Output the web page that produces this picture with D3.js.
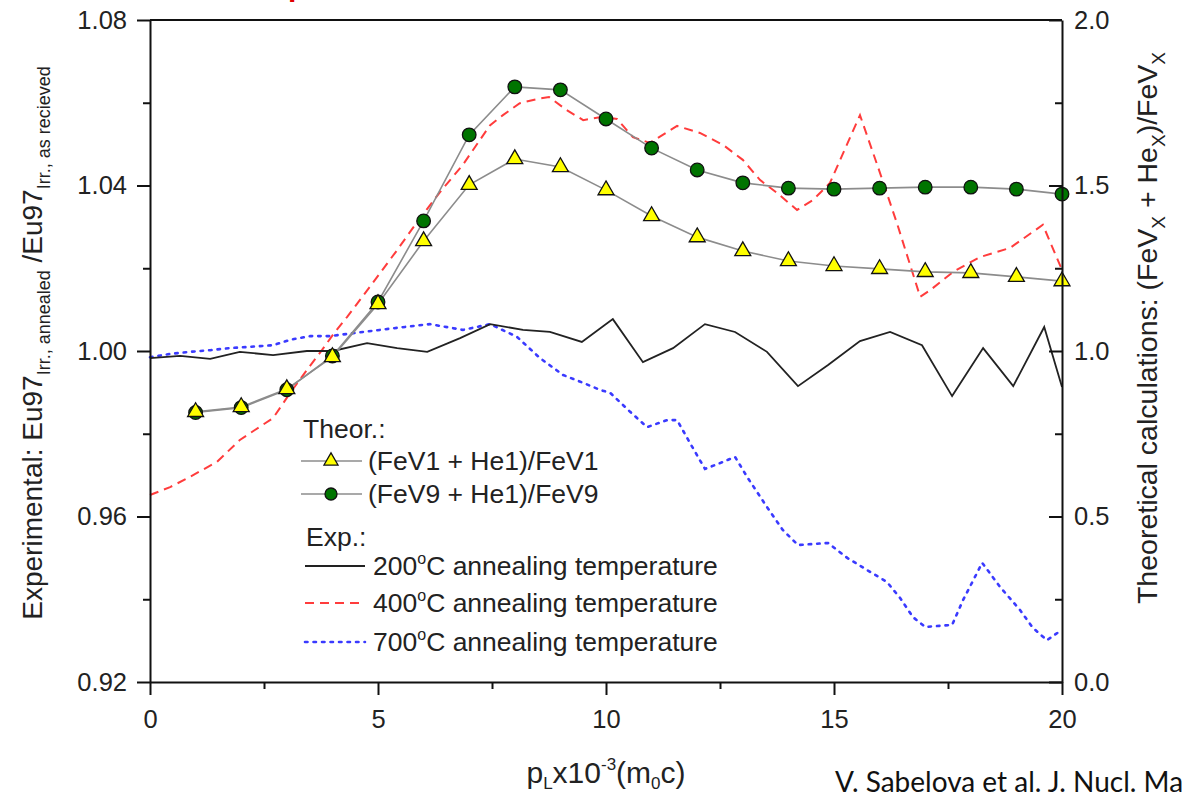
<!DOCTYPE html>
<html>
<head>
<meta charset="utf-8">
<title>Eu97 ratio vs pL</title>
<script src="https://d3js.org/d3.v7.min.js"></script>
<style>
  body { margin: 0; background: #fff; overflow: hidden; }
  svg { display: block; font-family: "Liberation Sans", Arial, sans-serif; }
  .axis path, .axis line { stroke: #111; stroke-width: 2; }
  .axis text { font-size: 25.5px; fill: #222; font-family: "Liberation Sans", Arial, sans-serif; }
</style>
</head>
<body>
<script>
// theoretical calculations (right axis)
var pL = [1, 2, 3, 4, 5, 6, 7, 8, 9, 10, 11, 12, 13, 14, 15, 16, 17, 18, 19, 20];
var fev1 = [0.816, 0.831, 0.885, 0.982, 1.142, 1.332, 1.502, 1.580, 1.556, 1.486,
            1.408, 1.344, 1.302, 1.272, 1.257, 1.248, 1.239, 1.236, 1.224, 1.211];
var fev9 = [0.814, 0.829, 0.883, 0.985, 1.148, 1.393, 1.653, 1.798, 1.789, 1.701,
            1.613, 1.547, 1.508, 1.492, 1.489, 1.492, 1.495, 1.495, 1.489, 1.474];

// experimental (left axis)
var x200 = [0, 0.66, 1.32, 1.97, 2.70, 3.44, 4.01, 4.76, 5.42, 6.08, 6.80, 7.46, 8.18, 8.77, 9.47, 10.15,
            10.81, 11.47, 12.17, 12.83, 13.53, 14.21, 14.87, 15.57, 16.23, 16.93, 17.59, 18.27, 18.93, 19.61, 20];
var y200 = [0.9983, 0.9988, 0.9981, 0.9998, 0.9990, 1.0000, 1.0000, 1.0019, 1.0007, 0.9998, 1.0031, 1.0065,
            1.0051, 1.0046, 1.0022, 1.0077, 0.9973, 1.0007, 1.0065, 1.0046, 0.9998, 0.9915, 0.9966, 1.0024,
            1.0046, 1.0014, 0.9891, 1.0007, 0.9915, 1.0058, 0.9913];

var x400 = [0, 0.44, 0.88, 1.47, 1.97, 2.30, 2.70, 3.07, 3.44, 3.77, 4.01, 4.32, 4.82, 5.42, 5.86, 6.36,
            6.86, 7.46, 7.74, 8.11, 8.49, 8.75, 9.14, 9.50, 9.93, 10.24, 10.59, 10.96, 11.56, 12.06, 12.57,
            13.00, 13.38, 13.75, 14.19, 14.54, 14.91, 15.57, 16.01, 16.38, 16.89, 17.11, 17.61, 18.20, 18.86,
            19.58, 20];
var y400 = [0.9652, 0.9671, 0.9696, 0.9732, 0.9785, 0.9809, 0.9838, 0.9898, 0.9954, 1.0002, 1.0039, 1.0082,
            1.0155, 1.0244, 1.0312, 1.0384, 1.0450, 1.0546, 1.0570, 1.0599, 1.0609, 1.0614, 1.0582, 1.0558,
            1.0566, 1.0561, 1.0517, 1.0503, 1.0544, 1.0527, 1.0498, 1.0462, 1.0413, 1.0382, 1.0341, 1.0365,
            1.0406, 1.0570, 1.0430, 1.0309, 1.0131, 1.0147, 1.0191, 1.0227, 1.0249, 1.0305, 1.0196];

var x700 = [0, 0.44, 0.88, 1.32, 1.75, 2.19, 2.70, 3.07, 3.51, 3.95, 4.67, 5.42, 6.14, 6.86, 7.46, 8.05,
            8.55, 9.06, 9.50, 9.87, 10.09, 10.53, 10.90, 11.34, 11.56, 11.84, 12.17, 12.50, 12.83, 13.11,
            13.53, 13.88, 14.21, 14.87, 15.29, 15.72, 16.16, 16.45, 16.73, 17.00, 17.59, 17.83, 18.25, 18.64,
            19.08, 19.36, 19.67, 19.93];
var y700 = [0.9985, 0.9993, 0.9998, 1.0002, 1.0007, 1.0010, 1.0014, 1.0027, 1.0036, 1.0036, 1.0046, 1.0056,
            1.0065, 1.0051, 1.0065, 1.0034, 0.9983, 0.9942, 0.9923, 0.9906, 0.9899, 0.9853, 0.9816, 0.9833,
            0.9833, 0.9778, 0.9715, 0.9729, 0.9744, 0.9693, 0.9623, 0.9567, 0.9531, 0.9536, 0.9500, 0.9471,
            0.9442, 0.9403, 0.9357, 0.9333, 0.9338, 0.9398, 0.9488, 0.9430, 0.9374, 0.9331, 0.9301, 0.9321];

// ticks
var xTicks = [0, 5, 10, 15, 20];
var xMinor = [2.5, 7.5, 12.5, 17.5];
var leftTicks = [0.92, 0.96, 1.00, 1.04, 1.08];
var leftMinor = [0.94, 0.98, 1.02, 1.06];
var rightTicks = [0, 0.5, 1.0, 1.5, 2.0];
var rightMinor = [0.25, 0.75, 1.25, 1.75];

var W = 1182, H = 793;
var svg = d3.select('body').append('svg').attr('width', W).attr('height', H);

var x = d3.scaleLinear().domain([0, 20]).range([150, 1062]);
var yL = d3.scaleLinear().domain([0.92, 1.08]).range([682, 20]);
var yR = d3.scaleLinear().domain([0, 2]).range([682, 20]);

// cut-off red heading (only its descender is inside the picture)
svg.append('text').attr('x', 288).attr('y', -4).attr('fill', '#e00000')
  .attr('font-size', 30).attr('font-weight', 'bold').text('p');

// experimental lines
function pairs(xs, ys) { return xs.map(function(d, i){ return [d, ys[i]]; }); }
var lineL = d3.line().x(function(d){ return x(d[0]); }).y(function(d){ return yL(d[1]); });
var lineR = d3.line().x(function(d){ return x(d[0]); }).y(function(d){ return yR(d[1]); });

svg.append('path').datum(pairs(x700, y700)).attr('d', lineL)
  .attr('fill', 'none').attr('stroke', '#3a3aff').attr('stroke-width', 2.6)
  .attr('stroke-dasharray', '2.5,6').attr('stroke-linecap', 'round');
svg.append('path').datum(pairs(x400, y400)).attr('d', lineL)
  .attr('fill', 'none').attr('stroke', '#ff3c3c').attr('stroke-width', 2).attr('stroke-dasharray', '9,6');
svg.append('path').datum(pairs(x200, y200)).attr('d', lineL)
  .attr('fill', 'none').attr('stroke', '#222').attr('stroke-width', 1.8);

// theoretical lines + markers
var tri = d3.symbol().type(d3.symbolTriangle).size(110);
svg.append('path').datum(pairs(pL, fev9)).attr('d', lineR)
  .attr('fill', 'none').attr('stroke', '#8c8c8c').attr('stroke-width', 1.6);
svg.append('path').datum(pairs(pL, fev1)).attr('d', lineR)
  .attr('fill', 'none').attr('stroke', '#8c8c8c').attr('stroke-width', 1.6);

svg.selectAll('circle.fev9').data(pairs(pL, fev9)).enter().append('circle')
  .attr('class', 'fev9')
  .attr('cx', function(d){ return x(d[0]); })
  .attr('cy', function(d){ return yR(d[1]); })
  .attr('r', 6.8).attr('fill', '#007400').attr('stroke', '#111').attr('stroke-width', 1.3);
svg.selectAll('path.fev1').data(pairs(pL, fev1)).enter().append('path')
  .attr('class', 'fev1').attr('d', tri)
  .attr('transform', function(d){ return 'translate(' + x(d[0]) + ',' + yR(d[1]) + ')'; })
  .attr('fill', '#ffff00').attr('stroke', '#111').attr('stroke-width', 1.3);

// axes
function minorAxis(g) { g.select('.domain').remove(); }

svg.append('g').attr('class', 'axis').attr('transform', 'translate(150,0)')
  .call(d3.axisLeft(yL).tickValues(leftTicks).tickFormat(d3.format('.2f'))
    .tickSize(13).tickPadding(10).tickSizeOuter(0));
svg.append('g').attr('class', 'axis').attr('transform', 'translate(150,0)')
  .call(d3.axisLeft(yL).tickValues(leftMinor).tickFormat('').tickSize(7)).call(minorAxis);

svg.append('g').attr('class', 'axis').attr('transform', 'translate(1062,0)')
  .call(d3.axisRight(yR).tickValues(rightTicks).tickFormat(d3.format('.1f'))
    .tickSizeInner(-13).tickSizeOuter(0).tickPadding(12));
svg.append('g').attr('class', 'axis').attr('transform', 'translate(1062,0)')
  .call(d3.axisRight(yR).tickValues(rightMinor).tickFormat('').tickSizeInner(-7).tickSizeOuter(0))
  .call(minorAxis);

svg.append('g').attr('class', 'axis').attr('transform', 'translate(0,682)')
  .call(d3.axisBottom(x).tickValues(xTicks).tickFormat(d3.format('d'))
    .tickSize(13).tickPadding(15).tickSizeOuter(0));
svg.append('g').attr('class', 'axis').attr('transform', 'translate(0,682)')
  .call(d3.axisBottom(x).tickValues(xMinor).tickFormat('').tickSize(7)).call(minorAxis);

svg.append('line').attr('x1', 150).attr('x2', 1062).attr('y1', 20).attr('y2', 20)
  .attr('stroke', '#111').attr('stroke-width', 2);

// axis titles
var lt = svg.append('text').attr('transform', 'translate(42,343) rotate(-90)')
  .attr('text-anchor', 'middle').attr('font-size', 28).attr('fill', '#222');
lt.append('tspan').text('Experimental: Eu97');
lt.append('tspan').attr('font-size', 18).attr('dy', 8).text('Irr., annealed');
lt.append('tspan').attr('dy', -8).text(' /Eu97');
lt.append('tspan').attr('font-size', 18).attr('dy', 8).text('Irr., as recieved');

var rt = svg.append('text').attr('transform', 'translate(1157,328) rotate(-90)')
  .attr('text-anchor', 'middle').attr('font-size', 28.5).attr('fill', '#222');
rt.append('tspan').text('Theoretical calculations: (FeV');
rt.append('tspan').attr('font-size', 19).attr('dy', 8).text('X');
rt.append('tspan').attr('dy', -8).text(' + He');
rt.append('tspan').attr('font-size', 19).attr('dy', 8).text('X');
rt.append('tspan').attr('dy', -8).text(')/FeV');
rt.append('tspan').attr('font-size', 19).attr('dy', 8).text('X');

var xt = svg.append('text').attr('x', 606).attr('y', 783)
  .attr('text-anchor', 'middle').attr('font-size', 30).attr('fill', '#222');
xt.append('tspan').text('p');
xt.append('tspan').attr('font-size', 17).attr('dy', 6).text('L');
xt.append('tspan').attr('dy', -6).text('x10');
xt.append('tspan').attr('font-size', 17).attr('dy', -13).text('-3');
xt.append('tspan').attr('dy', 13).text('(m');
xt.append('tspan').attr('font-size', 17).attr('dy', 6).text('0');
xt.append('tspan').attr('dy', -6).text('c)');

// citation runs off the right edge, as in the source slide
svg.append('text').attr('x', 835).attr('y', 792).attr('font-size', 28)
  .attr('font-family', 'Lato, "Open Sans", sans-serif').attr('fill', '#111')
  .text('V. Sabelova et al. J. Nucl. Mater.');

// legend
var leg = svg.append('g').attr('font-size', 26.5).attr('fill', '#222');
leg.append('text').attr('x', 303).attr('y', 438).text('Theor.:');
leg.append('text').attr('x', 306).attr('y', 546).text('Exp.:');

var theorRows = [
  { y: 461, label: '(FeV1 + He1)/FeV1', mark: 'tri' },
  { y: 494, label: '(FeV9 + He1)/FeV9', mark: 'circ' }
];
theorRows.forEach(function(r){
  leg.append('line').attr('x1', 301).attr('x2', 362).attr('y1', r.y).attr('y2', r.y)
    .attr('stroke', '#8c8c8c').attr('stroke-width', 1.6);
  if (r.mark === 'tri') {
    leg.append('path').attr('d', d3.symbol().type(d3.symbolTriangle).size(85))
      .attr('transform', 'translate(331,' + r.y + ')')
      .attr('fill', '#ffff00').attr('stroke', '#111').attr('stroke-width', 1.3);
  } else {
    leg.append('circle').attr('cx', 331).attr('cy', r.y).attr('r', 6)
      .attr('fill', '#007400').attr('stroke', '#111').attr('stroke-width', 1.3);
  }
  leg.append('text').attr('x', 368).attr('y', r.y + 9).text(r.label);
});

var expRows = [
  { y: 566, t: '200', stroke: '#222', dash: null, w: 1.8 },
  { y: 603, t: '400', stroke: '#ff3c3c', dash: '9,6', w: 2 },
  { y: 642, t: '700', stroke: '#3a3aff', dash: '2.5,6', w: 2.6 }
];
expRows.forEach(function(r){
  leg.append('line').attr('x1', 305).attr('x2', 365).attr('y1', r.y).attr('y2', r.y)
    .attr('stroke', r.stroke).attr('stroke-width', r.w)
    .attr('stroke-dasharray', r.dash).attr('stroke-linecap', r.t === '700' ? 'round' : 'butt');
  var t = leg.append('text').attr('x', 373).attr('y', r.y + 9);
  t.append('tspan').text(r.t);
  t.append('tspan').attr('font-size', 16).attr('dy', -11).text('o');
  t.append('tspan').attr('dy', 11).text('C annealing temperature');
});
</script>
</body>
</html>
